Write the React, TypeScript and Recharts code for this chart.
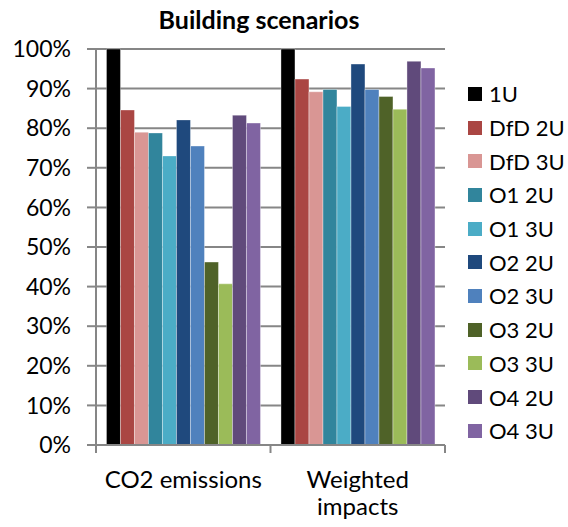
import React from 'react';
import { BarChart, Bar, XAxis, YAxis, CartesianGrid, Legend } from 'recharts';

const categories = ['CO2 emissions', 'Weighted impacts'];
const seriesNames = ['1U', 'DfD 2U', 'DfD 3U', 'O1 2U', 'O1 3U', 'O2 2U', 'O2 3U', 'O3 2U', 'O3 3U', 'O4 2U', 'O4 3U'];
const co2Values = [100, 84.6, 79.0, 78.8, 73.0, 82.1, 75.5, 46.2, 40.7, 83.3, 81.3];
const weightedValues = [100, 92.4, 89.2, 89.8, 85.5, 96.2, 89.8, 88.0, 84.8, 96.9, 95.2];
const yTicks = [0, 10, 20, 30, 40, 50, 60, 70, 80, 90, 100];

const COLORS = [
  '#000000', '#aa4643', '#d99694', '#31859c', '#4bacc6',
  '#1f497d', '#4f81bd', '#4f6228', '#9bbb59', '#604a7b', '#8064a2',
];

const FONT = 'Lato, "Noto Sans", sans-serif';
const AXIS_GRAY = '#868686';

// plot box
const W = 568;
const H = 527;
const PLOT_LEFT = 96;
const PLOT_RIGHT = 445;
const PLOT_TOP = 49;
const PLOT_BOTTOM = 445;
const BAND = (PLOT_RIGHT - PLOT_LEFT) / categories.length;
const WRAP_CHARS = 13;

const chartData = categories.map((name, ci) => {
  const row: Record<string, string | number> = { name };
  const vals = ci === 0 ? co2Values : weightedValues;
  seriesNames.forEach((s, si) => {
    row[s] = vals[si];
  });
  return row;
});

// greedy word wrap, Excel style
const wrapLabel = (label: string) => {
  const lines: string[] = [];
  label.split(' ').forEach((w) => {
    const last = lines[lines.length - 1];
    if (last !== undefined && (last + ' ' + w).length <= WRAP_CHARS) lines[lines.length - 1] = last + ' ' + w;
    else lines.push(w);
  });
  return lines;
};

const CategoryTick = (props: any) => {
  const { x, payload, index } = props;
  const left = x - BAND / 2;
  const right = x + BAND / 2;
  const lines = wrapLabel(String(payload.value));
  return (
    <g>
      <line x1={left} y1={PLOT_BOTTOM} x2={left} y2={PLOT_BOTTOM + 8} stroke={AXIS_GRAY} strokeWidth={2} />
      {index === categories.length - 1 && (
        <line x1={right} y1={PLOT_BOTTOM} x2={right} y2={PLOT_BOTTOM + 8} stroke={AXIS_GRAY} strokeWidth={2} />
      )}
      <text x={x} y={PLOT_BOTTOM + 43} textAnchor="middle" fill="#000" style={{ fontFamily: FONT, fontSize: 24 }}>
        {lines.map((l, i) => (
          <tspan key={i} x={x} dy={i === 0 ? 0 : 27}>
            {l}
          </tspan>
        ))}
      </text>
    </g>
  );
};

const LegendContent = (props: any) => {
  const { payload } = props;
  return (
    <div style={{ fontFamily: FONT, fontSize: 22, color: '#000' }}>
      {payload.map((p: any) => (
        <div key={p.value} style={{ display: 'flex', alignItems: 'center', height: 33.7 }}>
          <span style={{ width: 14, height: 14, background: p.color, display: 'inline-block', marginRight: 7 }} />
          <span>{p.value}</span>
        </div>
      ))}
    </div>
  );
};

export default function App() {
  return (
    <div style={{ position: 'absolute', left: 0, top: 0, width: W, height: H, background: '#fff' }}>
      <div
        style={{
          position: 'absolute',
          left: 0,
          width: 518,
          top: 4,
          textAlign: 'center',
          fontFamily: FONT,
          fontWeight: 'bold',
          fontSize: 25,
          lineHeight: '30px',
          color: '#000',
        }}
      >
        Building scenarios
      </div>
      <BarChart
        width={W}
        height={H}
        data={chartData}
        margin={{ top: PLOT_TOP, right: W - PLOT_RIGHT, left: 0, bottom: 0 }}
        barCategoryGap="6%"
        barGap={0}
      >
        <CartesianGrid vertical={false} stroke={AXIS_GRAY} strokeWidth={2} />
        <XAxis
          dataKey="name"
          height={H - PLOT_BOTTOM}
          axisLine={{ stroke: AXIS_GRAY, strokeWidth: 2 }}
          tickLine={false}
          tick={<CategoryTick />}
          interval={0}
        />
        <YAxis
          width={PLOT_LEFT}
          domain={[0, 100]}
          ticks={yTicks}
          interval={0}
          tickFormatter={(v: number) => `${v}%`}
          axisLine={{ stroke: AXIS_GRAY, strokeWidth: 2 }}
          tickLine={{ stroke: AXIS_GRAY, strokeWidth: 2 }}
          tickSize={9}
          tickMargin={16}
          tick={{ fill: '#000', fontSize: 23, fontFamily: FONT }}
        />
        <Legend
          layout="vertical"
          align="center"
          verticalAlign="middle"
          content={<LegendContent />}
          wrapperStyle={{ left: 468, top: 77, width: 100 }}
        />
        {seriesNames.map((s, i) => (
          <Bar
            key={s}
            dataKey={s}
            name={s}
            fill={COLORS[i]}
            stroke="rgba(255,255,255,0.35)"
            strokeWidth={1}
            isAnimationActive={false}
          />
        ))}
      </BarChart>
    </div>
  );
}
